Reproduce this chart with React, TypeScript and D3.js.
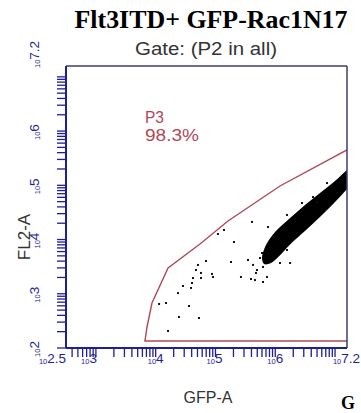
import React from "react";
import * as d3 from "d3";

const title = "Flt3ITD+ GFP-Rac1N17";
const nextTitleStart = "G";
const gateLabel = "Gate: (P2 in all)";
const popName = "P3";
const popPercent = "98.3%";
const xTitle = "GFP-A";
const yTitle = "FL2-A";

const xDomain = [Math.pow(10, 2.5), Math.pow(10, 7.2)];
const yDomain = [1e2, Math.pow(10, 7.2)];
const xTickExps = ["2.5", "3", "4", "5", "6", "7.2"];
const yTickExps = ["2", "3", "4", "5", "6", "7.2"];

// P3 gate polygon (GFP-A, FL2-A)
const gateX = [6620, 7160, 8670, 16100, 55100, 1.62e5, 1.2e6, 1.58e7, 1.22e8, 1.22e8];
const gateY = [135, 244, 676, 2985, 8280, 22000, 97100, 4.48e5, 1.47e6, 135];

// dense population outline (GFP-A, FL2-A)
const clusterX = [6.0e5, 7.0e5, 9.9e5, 1.77e6, 3.14e6, 5.6e6, 9.98e6, 1.58e7, 2.16e7, 2.16e7, 1.58e7, 9.98e6, 5.6e6, 3.14e6, 1.77e6, 1.11e6, 8.17e5, 6.5e5];
const clusterY = [4570, 7930, 13770, 24950, 43400, 72100, 1.2e5, 1.92e5, 2.58e5, 1.15e5, 85000, 49000, 26000, 14300, 8100, 4700, 3600, 3540];

// sparse events (GFP-A, FL2-A)
const eventX = [11400, 14900, 16100, 24500, 36100, 23600, 28600, 39000, 40500, 42100, 53000, 57300, 87500, 2.67e5, 3.93e5, 6.24e5, 7.28e5, 4.76e5, 1.10e5, 1.39e5, 2.04e5, 1.82e5, 3.50e5, 69500, 51000, 47200, 91000, 57300, 4.08e5, 4.25e5, 7.57e5, 1.77e6, 1.57e6, 2.80e6, 4.99e6, 7.34e6, 4.28e6, 4.95e5, 4.58e5, 6.24e5, 6.00e5, 5.56e5, 1.20e6, 1.57e6];
const eventY = [648, 676, 206, 373, 595, 1030, 1390, 1280, 1580, 1950, 357, 2420, 2320, 2040, 1870, 1650, 2040, 2420, 12650, 15000, 9010, 3850, 4200, 4020, 3400, 2740, 2040, 1950, 21100, 3400, 17000, 3690, 28400, 47200, 49200, 1.10e5, 60800, 2740, 1790, 3120, 5650, 4570, 3690, 6410];

const W = 361, H = 413;
const L = 66, T = 66, R = 347, B = 348;
const navy = "#1e1e96";
const red = "#b04858";

export default function App() {
  const x = d3.scaleLog().domain(xDomain).range([L, R]);
  const y = d3.scaleLog().domain(yDomain).range([B, T]);
  const xTicks = x.ticks();
  const yTicks = y.ticks();

  const gateLine = d3.line<number>().x((i) => x(gateX[i])).y((i) => y(gateY[i]));
  const gatePath = gateLine(gateX.map((_, i) => i)) + "Z";
  const clusterLine = d3
    .line<number>()
    .x((i) => x(clusterX[i]))
    .y((i) => y(clusterY[i]))
    .curve(d3.curveCatmullRomClosed);
  const clusterPath = clusterLine(clusterX.map((_, i) => i)) || "";

  const xAnchor = ["end", "end", "middle", "middle", "middle", "end"];
  const xDx = [0, 1, 0, -1, 0, 13];

  return (
    <svg width={W} height={H} style={{ position: "absolute", left: 0, top: 0, background: "#fff" }} fontFamily="Arial, 'Liberation Sans', sans-serif">
      <defs>
        <clipPath id="plotClip">
          <rect x={L} y={T} width={R - L} height={B - T} />
        </clipPath>
      </defs>
      <text x={211} y={28} textAnchor="middle" fontFamily="'Liberation Serif', 'Times New Roman', serif" fontWeight="bold" fontSize={25} textLength={273} lengthAdjust="spacingAndGlyphs">{title}</text>
      <text x={341} y={409} fontFamily="'Liberation Serif', 'Times New Roman', serif" fontWeight="bold" fontSize={18}>{nextTitleStart}</text>
      <text x={206} y={55} textAnchor="middle" fontSize={17.5} fill="#333" textLength={142} lengthAdjust="spacingAndGlyphs">{gateLabel}</text>

      <g clipPath="url(#plotClip)">
        <path d={clusterPath} fill="#000" />
        {eventX.map((v, i) => (
          <rect key={i} x={x(v) - 1} y={y(eventY[i]) - 1} width={2} height={2} fill="#111" />
        ))}
        <path d={gatePath} fill="none" stroke={red} strokeWidth={1.4} />
      </g>

      <text x={145} y={123} fontSize={16} fill={red} textLength={19} lengthAdjust="spacingAndGlyphs">{popName}</text>
      <text x={145} y={141} fontSize={16} fill={red} textLength={54} lengthAdjust="spacingAndGlyphs">{popPercent}</text>

      {/* frame */}
      <line x1={L} y1={T} x2={R} y2={T} stroke="#3c3c6e" strokeWidth={1.5} />
      <line x1={R} y1={T} x2={R} y2={B} stroke="#3c3c6e" strokeWidth={1.5} />
      <line x1={L} y1={T} x2={L} y2={B} stroke={navy} strokeWidth={2} />
      <line x1={L} y1={B} x2={R} y2={B} stroke={navy} strokeWidth={2} />

      {/* ticks */}
      {xTicks.map((t, i) => (
        <line key={"xt" + i} x1={x(t)} x2={x(t)} y1={B} y2={B + 9} stroke={navy} strokeWidth={1.3} />
      ))}
      {yTicks.map((t, i) => (
        <line key={"yt" + i} x1={L - 9} x2={L} y1={y(t)} y2={y(t)} stroke={navy} strokeWidth={1.3} />
      ))}

      {xTickExps.map((e, i) => (
        <text key={"xl" + i} x={x(Math.pow(10, parseFloat(e))) + xDx[i]} y={364} textAnchor={xAnchor[i]} fill={navy}>
          <tspan fontSize={7.5}>10</tspan>
          <tspan fontSize={13.5} dy={-1}>{e}</tspan>
        </text>
      ))}
      {yTickExps.map((e, i) => {
        const top = i === yTickExps.length - 1;
        const py = top ? y(Math.pow(10, parseFloat(e))) + 2 : y(Math.pow(10, parseFloat(e))) + 1;
        return (
          <text key={"yl" + i} transform={`translate(40, ${py}) rotate(-90)`} textAnchor={top ? "start" : "middle"} fill={navy}>
            <tspan fontSize={7.5}>10</tspan>
            <tspan fontSize={13.5} dy={-1}>{e}</tspan>
          </text>
        );
      })}

      <text x={208} y={403} textAnchor="middle" fontSize={16} fill="#333">{xTitle}</text>
      <text transform="translate(30, 237) rotate(-90)" textAnchor="middle" fontSize={17} fill="#333">{yTitle}</text>
    </svg>
  );
}
